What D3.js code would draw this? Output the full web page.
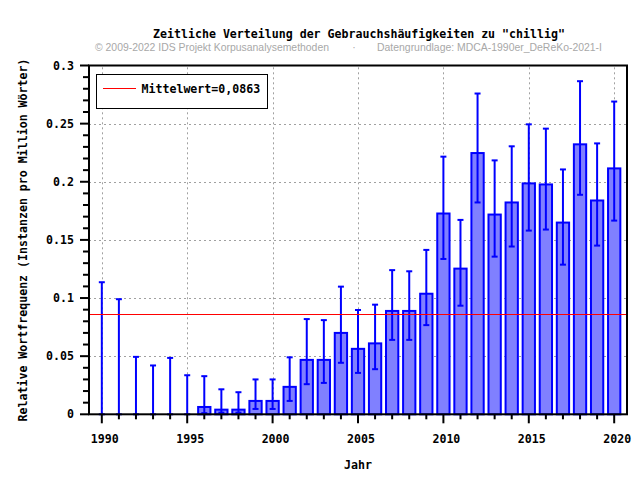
<!DOCTYPE html>
<html>
<head>
<meta charset="utf-8">
<script src="https://cdn.jsdelivr.net/npm/d3@7"></script>
<style>
  body { margin: 0; background: #fff; }
  svg { display: block; }
</style>
</head>
<body>
<div id="chart"></div>
<script>
// values
const years = d3.range(1990, 2021);
const values = [0, 0, 0, 0, 0, 0,
  0.0063, 0.0040, 0.0040, 0.0115, 0.0115,
  0.0236, 0.0468, 0.0468, 0.0700, 0.0563, 0.0610,
  0.0889, 0.0889, 0.1037, 0.1727, 0.1253, 0.2247,
  0.1718, 0.1822, 0.1986, 0.1977, 0.1649, 0.2322, 0.1839, 0.2115];
const upper = [0.1136, 0.099, 0.0494, 0.042, 0.0485, 0.0336,
  0.0328, 0.0215, 0.019, 0.030, 0.030,
  0.049, 0.0819, 0.081, 0.1098, 0.0897, 0.0943,
  0.124, 0.123, 0.1414, 0.2216, 0.1672, 0.2759,
  0.2184, 0.2305, 0.2494, 0.2457, 0.2106, 0.2865, 0.233, 0.269];
const lower = [0, 0, 0, 0, 0, 0,
  0.001, 0.0014, 0.0014, 0.0046, 0.0046,
  0.0115, 0.0259, 0.027, 0.0443, 0.0356, 0.0388,
  0.064, 0.064, 0.0767, 0.1336, 0.0934, 0.1822,
  0.1356, 0.1443, 0.158, 0.1589, 0.1287, 0.1888, 0.1451, 0.1666];
const mean = 0.0863;
const xTicks = [1990, 1995, 2000, 2005, 2010, 2015, 2020];
const yTicks = [0, 0.05, 0.1, 0.15, 0.2, 0.25, 0.3];
const yTickLabels = ['0', '0.05', '0.1', '0.15', '0.2', '0.25', '0.3'];

const W = 640, H = 480;
const margin = { top: 65.5, right: 13, bottom: 66, left: 89 };
const mono = '"DejaVu Sans Mono", monospace';
const fs = '11.6px';

const svg = d3.select('#chart').append('svg')
  .attr('width', W)
  .attr('height', H);

const x = d3.scaleLinear()
  .domain([1989.25, 2020.75])
  .range([margin.left, W - margin.right]);
const y = d3.scaleLinear()
  .domain([0, 0.3])
  .range([H - margin.bottom + 0.3, margin.top]);

// grid
const grid = svg.append('g')
  .attr('stroke', '#a0a0a0')
  .attr('stroke-width', 1)
  .attr('stroke-dasharray', '2,3');
grid.selectAll('.gx').data(xTicks).enter().append('line')
  .attr('x1', d => Math.round(x(d)) + 0.5).attr('x2', d => Math.round(x(d)) + 0.5)
  .attr('y1', y(0)).attr('y2', y(0.3));
grid.selectAll('.gy').data(yTicks.slice(1, -1)).enter().append('line')
  .attr('x1', x.range()[0]).attr('x2', x.range()[1])
  .attr('y1', d => Math.round(y(d)) + 0.5).attr('y2', d => Math.round(y(d)) + 0.5);

// bars
const bw = x(1990.72) - x(1990);
svg.append('g').selectAll('rect')
  .data(years.map((yr, i) => ({ yr, v: values[i] })).filter(d => d.v > 0))
  .enter().append('rect')
  .attr('x', d => x(d.yr) - bw / 2)
  .attr('y', d => y(d.v))
  .attr('width', bw)
  .attr('height', d => y(0) - y(d.v))
  .attr('fill', '#8080ff')
  .attr('stroke', '#0000ff')
  .attr('stroke-width', 2);

// error bars
const eb = svg.append('g')
  .attr('stroke', '#0000ff')
  .attr('stroke-width', 2);
const cap = 3;
years.forEach((yr, i) => {
  const cx = x(yr);
  eb.append('line').attr('x1', cx).attr('x2', cx)
    .attr('y1', y(lower[i])).attr('y2', y(upper[i]));
  eb.append('line').attr('x1', cx - cap).attr('x2', cx + cap)
    .attr('y1', y(upper[i])).attr('y2', y(upper[i]));
  eb.append('line').attr('x1', cx - cap).attr('x2', cx + cap)
    .attr('y1', y(lower[i])).attr('y2', y(lower[i]));
});

// mean line
svg.append('line')
  .attr('x1', x.range()[0]).attr('x2', x.range()[1])
  .attr('y1', Math.round(y(mean)) + 0.5).attr('y2', Math.round(y(mean)) + 0.5)
  .attr('stroke', '#ff0000')
  .attr('stroke-width', 1);

// frame
svg.append('rect')
  .attr('x', x.range()[0]).attr('y', y(0.3))
  .attr('width', x.range()[1] - x.range()[0])
  .attr('height', y(0) - y(0.3))
  .attr('fill', 'none')
  .attr('stroke', '#000')
  .attr('stroke-width', 2);

// y axis ticks
const yAxis = svg.append('g').attr('stroke', '#000').attr('stroke-width', 2);
yAxis.selectAll('.ym').data(d3.range(0, 31).map(d => d / 100)).enter().append('line')
  .attr('x1', (d, i) => x.range()[0] - (i % 5 === 0 ? 9 : 6))
  .attr('x2', x.range()[0])
  .attr('y1', d => y(d)).attr('y2', d => y(d));

svg.append('g').selectAll('text')
  .data(yTicks).enter().append('text')
  .attr('x', 74)
  .attr('y', d => y(d) + 4)
  .attr('text-anchor', 'end')
  .style('font-family', mono).style('font-size', fs).style('font-weight', 'bold')
  .text((d, i) => yTickLabels[i]);

// x axis ticks
const xAxis = svg.append('g').attr('stroke', '#000').attr('stroke-width', 2);
xAxis.selectAll('line').data(years).enter().append('line')
  .attr('x1', d => x(d)).attr('x2', d => x(d))
  .attr('y1', y(0))
  .attr('y2', d => y(0) + (d % 5 === 0 ? 9 : 5));

svg.append('g').selectAll('text')
  .data(xTicks).enter().append('text')
  .attr('x', d => x(d) + 3)
  .attr('y', 443)
  .attr('text-anchor', 'middle')
  .style('font-family', mono).style('font-size', fs).style('font-weight', 'bold')
  .text(d => d);

// axis titles
svg.append('text')
  .attr('x', 358).attr('y', 469)
  .attr('text-anchor', 'middle')
  .style('font-family', mono).style('font-size', fs).style('font-weight', 'bold')
  .text('Jahr');

svg.append('text')
  .attr('transform', 'translate(26.5,240) rotate(-90)')
  .attr('text-anchor', 'middle')
  .style('font-family', mono).style('font-size', fs).style('font-weight', 'bold')
  .text('Relative Wortfrequenz (Instanzen pro Million Wörter)');

// title + credits
svg.append('text')
  .attr('x', 359).attr('y', 38)
  .attr('text-anchor', 'middle')
  .style('font-family', mono).style('font-size', fs).style('font-weight', 'bold')
  .text('Zeitliche Verteilung der Gebrauchshäufigkeiten zu "chillig"');

const credit = svg.append('g')
  .attr('fill', '#a8a8a8')
  .style('font-family', '"Liberation Sans", Arial, sans-serif')
  .style('font-size', '10.5px');
credit.append('text').attr('x', 95).attr('y', 51)
  .attr('textLength', 234).attr('lengthAdjust', 'spacingAndGlyphs')
  .text('© 2009-2022 IDS Projekt Korpusanalysemethoden');
credit.append('text').attr('x', 354).attr('y', 51)
  .attr('text-anchor', 'middle')
  .text('·');
credit.append('text').attr('x', 377).attr('y', 51)
  .attr('textLength', 225).attr('lengthAdjust', 'spacingAndGlyphs')
  .text('Datengrundlage: MDCA-1990er_DeReKo-2021-I');

// legend
const legend = svg.append('g');
legend.append('rect')
  .attr('x', 96.5).attr('y', 74.5)
  .attr('width', 171).attr('height', 34)
  .attr('fill', '#fff')
  .attr('stroke', '#000')
  .attr('stroke-width', 1);
legend.append('line')
  .attr('x1', 103).attr('x2', 136)
  .attr('y1', 88.5).attr('y2', 88.5)
  .attr('stroke', '#ff0000').attr('stroke-width', 1);
legend.append('text')
  .attr('x', 141.5).attr('y', 92.5)
  .style('font-family', mono).style('font-size', fs).style('font-weight', 'bold')
  .text('Mittelwert=0,0863');
</script>
</body>
</html>
